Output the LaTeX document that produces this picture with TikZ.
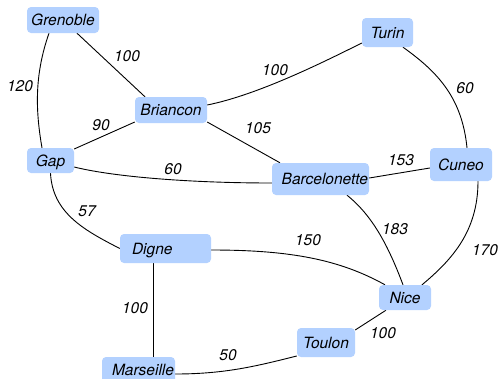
\documentclass[tikz,border=0pt]{standalone}
\usepackage{fontspec}
\setmainfont{TeX Gyre Heros}
\usetikzlibrary{backgrounds}
\definecolor{cityblue}{RGB}{179,209,255}
\begin{document}
\begin{tikzpicture}[x=1pt,y=-1pt,
  city/.style={fill=cityblue, rounded corners=4pt, inner sep=0pt, text height=11pt, text depth=0pt, font=\fontsize{15.5}{18}\selectfont\itshape},
  lbl/.style={inner sep=0pt, text height=11pt, text depth=0pt, font=\fontsize{15.5}{18}\selectfont\itshape},
  road/.style={draw=black, line width=0.9pt}]
\useasboundingbox (0,0) rectangle (498,378);
% cities
\node[city, minimum width=72pt, minimum height=26pt] (gre) at (63,20) {Grenoble};
\node[city, minimum width=72pt, minimum height=26pt] (bri) at (171,110) {Briancon};
\node[city, minimum width=47pt, minimum height=25pt] (gap) at (50.5,160.5) {Gap};
\node[city, minimum width=51pt, minimum height=29pt] (tur) at (387.5,32.5) {Turin};
\node[city, minimum width=62pt, minimum height=33pt] (cun) at (461,164.5) {Cuneo};
\node[city, text width=95pt, align=right, inner xsep=1pt, minimum height=32pt] (bar) at (320.5,179) {Barcelonette};
\node[city, text width=67pt, align=left, inner xsep=12pt, minimum height=29pt] (dig) at (165.5,248.5) {Digne};
\node[city, text width=71pt, align=right, inner xsep=1pt, minimum height=26pt] (mar) at (138.5,370) {Marseille};
\node[city, minimum width=52pt, minimum height=25pt] (nic) at (405,297.5) {Nice};
\node[city, minimum width=58pt, minimum height=29pt] (tou) at (326,342.5) {Toulon};
% roads
\begin{pgfonlayer}{background}
\draw[road] ([xshift=14pt]gre.south) -- ([xshift=-26pt]bri.north);
\draw[road] ([xshift=-14pt]gre.south) .. controls +(-14,40) and +(-7,-40) .. ([xshift=-8.5pt]gap.north);
\draw[road] ([yshift=11.5pt]gap.east) -- ([yshift=-12pt]bri.west);
\draw[road] ([yshift=5pt]bri.east) .. controls +(50,-10) and +(-40,20) .. ([yshift=-10.5pt]tur.west);
\draw[road] ([yshift=-12pt]bri.east) -- ([xshift=-40.5pt]bar.north);
\draw[road] ([yshift=-6.5pt]gap.east) .. controls +(40,10) and +(-80,0) .. ([yshift=-4pt]bar.west);
\draw[road] ([yshift=1pt]bar.east) -- ([yshift=-3.5pt]cun.west);
\draw[road] ([xshift=15.5pt]tur.south) .. controls +(35,25) and +(-5,-50) .. ([xshift=6pt]cun.north);
\draw[road] ([xshift=17pt]cun.south) .. controls +(0,50) and +(30,-25) .. ([xshift=17pt]nic.north);
\draw[road] ([xshift=26.5pt]bar.south) .. controls +(25,20) and +(-15,-40) .. ([xshift=-2pt]nic.north);
\draw[road] (gap.south) .. controls +(2,40) and +(-35,-18) .. (dig.west);
\draw[road] ([yshift=-1.5pt]dig.east) .. controls +(80,0) and +(-45,-25) .. ([xshift=-20pt]nic.north);
\draw[road] ([xshift=-12.5pt]dig.south) -- ([xshift=14.5pt]mar.north);
\draw[road] ([xshift=-19pt]nic.south) -- ([yshift=12.5pt]tou.east);
\draw[road] ([yshift=-13.5pt]tou.west) .. controls +(-40,10) and +(50,0) .. ([yshift=-4pt]mar.east);
\end{pgfonlayer}
% distances
\node[lbl] (l1) at (127,56) {100};
\node[lbl] (l2) at (20,86) {120};
\node[lbl] (l3) at (101,125) {90};
\node[lbl] (l4) at (173,169) {60};
\node[lbl] (l5) at (275,70) {100};
\node[lbl] (l6) at (258,128) {105};
\node[lbl] (l7) at (465,88) {60};
\node[lbl] (l8) at (401,160) {153};
\node[lbl] (l9) at (87,211) {57};
\node[lbl] (l10) at (135,308) {100};
\node[lbl] (l11) at (228,355) {50};
\node[lbl] (l12) at (308,240) {150};
\node[lbl] (l13) at (395,229) {183};
\node[lbl] (l14) at (485,250) {170};
\node[lbl] (l15) at (383,333) {100};
\end{tikzpicture}
\end{document}
